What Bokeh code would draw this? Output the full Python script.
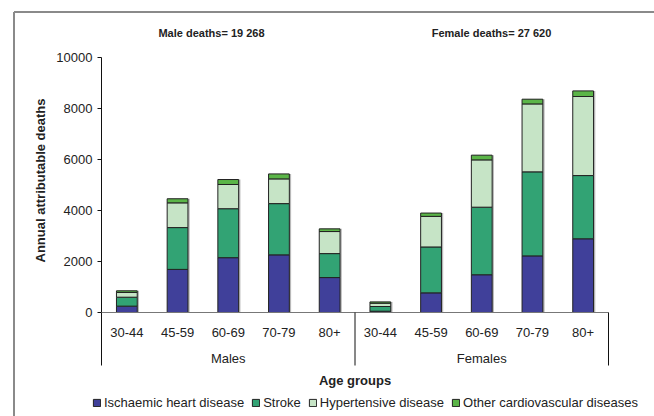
import math
from bokeh.plotting import figure
from bokeh.models import ColumnDataSource, Legend, LegendItem
from bokeh.transform import dodge
from bokeh.core.properties import value
from bokeh.embed import file_html
from bokeh.resources import INLINE

# ---- data ----
ages = ["30-44", "45-59", "60-69", "70-79", "80+"]
groups = ["Males", "Females"]
series = ["Ischaemic heart disease", "Stroke", "Hypertensive disease",
          "Other cardiovascular diseases"]
ischaemic_m = [250, 1690, 2150, 2260, 1370]
stroke_m = [350, 1640, 1920, 2010, 940]
hypert_m = [185, 970, 950, 970, 865]
other_m = [65, 160, 195, 195, 105]
ischaemic_f = [50, 770, 1480, 2220, 2890]
stroke_f = [185, 1800, 2650, 3295, 2480]
hypert_f = [130, 1200, 1855, 2665, 3100]
other_f = [50, 130, 185, 185, 220]
group_titles = ["Male deaths= 19 268", "Female deaths= 27 620"]
y_ticks = [0, 2000, 4000, 6000, 8000, 10000]
y_tick_labels = [str(t) for t in y_ticks]

colors = ["#40409A", "#32A374", "#C6E4C6", "#5BB548"]
FONT = "Liberation Sans"
TXT = "#222222"
GREY = "#8a8a8a"

# ---- layout constants (pixels) ----
W, H = 654, 416
PX_X = 50.7            # pixels per category
PX_Y = 255 / 10000     # pixels per death
AX_LEFT = 101          # y axis position in canvas px
AX_ZERO = 312          # y=0 position in canvas px (from top)


def dx(px):
    return px / PX_X


def dy(px):
    return px / PX_Y


n = len(ages) * len(groups)
xs = [i + 0.5 for i in range(n)]
isch = ischaemic_m + ischaemic_f
strk = stroke_m + stroke_f
hyp = hypert_m + hypert_f
oth = other_m + other_f
totals = [a + b + c + d for a, b, c, d in zip(isch, strk, hyp, oth)]
src = ColumnDataSource(dict(x=xs, isch=isch, stroke=strk, hyp=hyp, other=oth,
                            total=totals))

x0, x1 = -dx(AX_LEFT), dx(W - AX_LEFT)
y1, y0 = dy(AX_ZERO), -dy(H - AX_ZERO)
p = figure(width=W, height=H, x_range=(x0, x1), y_range=(y0, y1),
           output_backend="svg", toolbar_location=None,
           x_axis_location=None, y_axis_location=None, min_border=0)
p.outline_line_color = None
p.xgrid.visible = False
p.ygrid.visible = False

Y_SEP = -dy(53)        # bottom of axis / separator lines

# outer figure frame (left and top rules)
bx, by = x0 + dx(13.5), y1 - dy(11.5)
p.segment(x0=[bx, bx], y0=[y0, by], x1=[bx, x1], y1=[by, by],
          line_color=GREY, line_width=2)

# bar shadow + bars
p.vbar(x=dodge("x", 0.035), top="total", bottom=0, width=0.41, source=src,
       fill_color="#b8b8b8", line_color=None)
rs = p.vbar_stack(["isch", "stroke", "hyp", "other"], x="x", width=0.41,
                  color=colors, line_color="#222222", line_width=1, source=src)

# y axis: line, ticks, labels, title
p.segment(x0=[0], y0=[Y_SEP], x1=[0], y1=[y_ticks[-1]], line_color="#111111",
          line_width=1)
p.segment(x0=[-dx(4)] * len(y_ticks), y0=y_ticks, x1=[0] * len(y_ticks),
          y1=y_ticks, line_color="#111111", line_width=1)
p.text(x=[-dx(9)] * len(y_ticks), y=y_ticks, text=y_tick_labels,
       text_align="right", text_baseline="middle", text_font=value(FONT),
       text_font_size="13px", text_color=TXT)
p.text(x=[-dx(61)], y=[dy(AX_ZERO - 180)], text=["Annual attributable deaths"],
       angle=math.pi / 2, text_align="center", text_baseline="middle",
       text_font=value(FONT), text_font_size="13px", text_font_style="bold",
       text_color=TXT)

# x axis line at 0 and group separators
p.segment(x0=[0], y0=[0], x1=[n], y1=[0], line_color="#777777", line_width=1.2)
sep_x = [len(ages) * (g + 1) for g in range(len(groups))]
p.segment(x0=sep_x, y0=[0] * len(sep_x), x1=sep_x, y1=[Y_SEP] * len(sep_x),
          line_color="#111111", line_width=1)

# category labels
p.text(x=xs, y=[-dy(19.5)] * n, text=ages * len(groups), text_align="center",
       text_baseline="middle", text_font=value(FONT), text_font_size="13px",
       text_color=TXT)
gx = [len(ages) * g + len(ages) / 2 for g in range(len(groups))]
p.text(x=gx, y=[-dy(45.5)] * len(groups), text=groups, text_align="center",
       text_baseline="middle", text_font=value(FONT), text_font_size="13px",
       text_color=TXT)
p.text(x=[n / 2], y=[-dy(68)], text=["Age groups"], text_align="center",
       text_baseline="middle", text_font=value(FONT), text_font_size="13px",
       text_font_style="bold", text_color=TXT)

# group titles
p.text(x=[dx(110), dx(390)], y=[dy(280)] * 2, text=group_titles,
       text_align="center", text_baseline="middle", text_font=value(FONT),
       text_font_size="11px", text_font_style="bold", text_color=TXT)

legend = Legend(items=[LegendItem(label=s, renderers=[r]) for s, r in zip(series, rs)],
                location=(92, 6), orientation="horizontal",
                label_text_font=FONT, label_text_font_size="13px",
                label_text_color=TXT,
                glyph_width=9, glyph_height=9, label_standoff=3, spacing=7,
                label_height=9, padding=0, margin=0,
                border_line_color=None, background_fill_alpha=0)
p.add_layout(legend)

open("out.html", "w").write(file_html(p, INLINE))
